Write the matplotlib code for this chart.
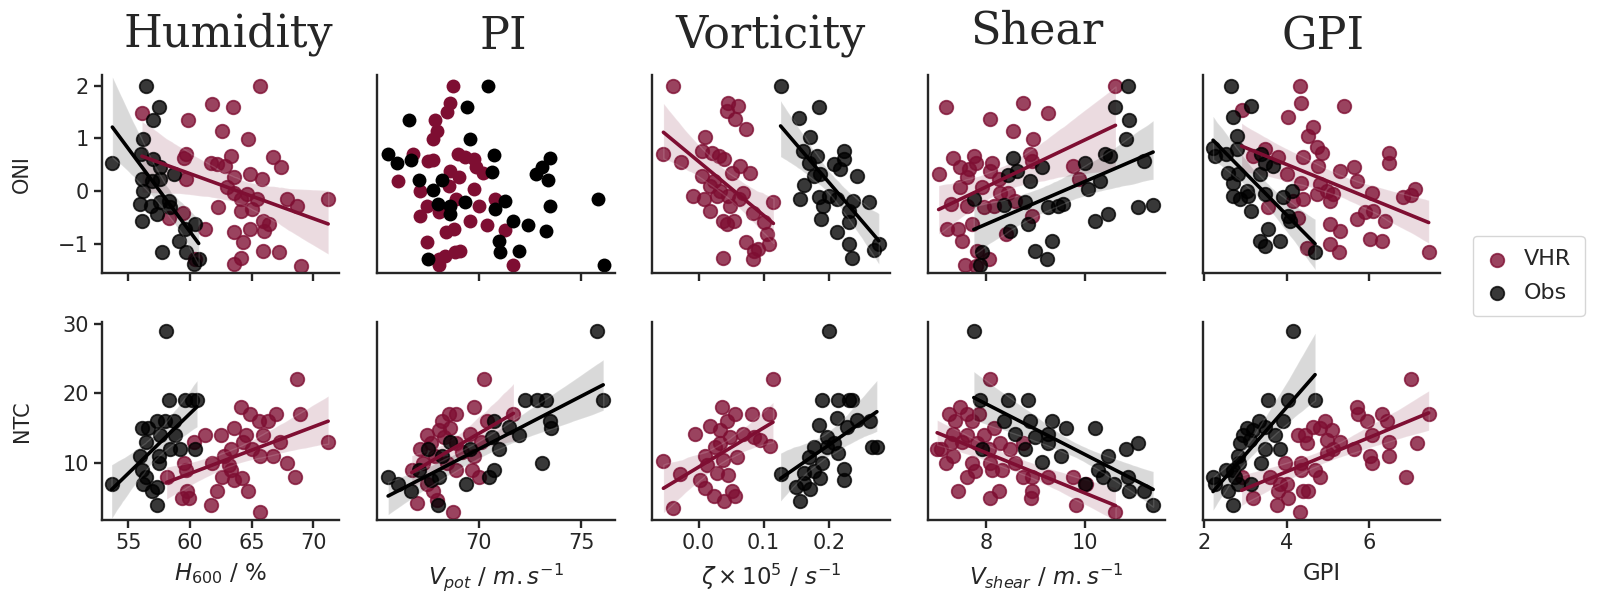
import numpy as np
import matplotlib
matplotlib.use("Agg")
import matplotlib.pyplot as plt
import seaborn as sns

# ---- data ---------------------------------------------------------------
# Humidity (H600) vs ONI / NTC
hum_vhr_oni_x = [56.1, 59.8, 61.8, 63.5, 65.7, 62.6, 64.7, 59.7, 59.5, 61.7, 62.2, 62.8, 63.3, 66.7, 67.4,
                 59.7, 63.6, 64.9, 65.8, 63.0, 63.6, 64.1, 64.6, 65.4, 62.3, 64.1, 65.0, 67.9, 68.7, 71.2,
                 59.4, 58.3, 61.2, 63.6, 64.3, 64.9, 65.9, 66.0, 66.4, 65.9, 67.2, 64.1, 63.6, 69.0, 60.4]
hum_vhr_oni_y = [1.49, 1.35, 1.66, 1.59, 2.0, 1.14, 0.99, 0.70, 0.62, 0.54, 0.51, 0.48, 0.67, 0.64, 0.45,
                 0.23, 0.26, 0.32, 0.23, 0.07, -0.03, -0.15, -0.06, -0.15, -0.31, -0.37, -0.34, -0.15, -0.28, -0.15,
                 -0.42, -0.50, -0.72, -0.78, -0.96, -0.72, -0.56, -0.75, -0.63, -1.13, -1.15, -1.26, -1.38, -1.42, -1.29]
hum_obs_oni_x = [56.4, 57.5, 57.0, 56.2, 53.7, 56.0, 57.0, 57.6, 58.7, 56.1, 56.9, 57.6, 56.2, 55.95, 56.8,
                 57.6, 58.3, 57.3, 56.1, 58.4, 59.6, 60.4, 59.1, 59.7, 57.7, 60.3, 60.7]
hum_obs_oni_y = [2.0, 1.59, 1.35, 0.99, 0.53, 0.70, 0.61, 0.45, 0.32, 0.23, 0.20, 0.23, 0.0, -0.25, -0.28,
                 -0.21, -0.18, -0.44, -0.56, -0.31, -0.72, -0.63, -0.94, -1.15, -1.15, -1.38, -1.29]
hum_vhr_ntc_x = [68.7, 68.9, 71.2, 64.1, 64.9, 65.6, 66.3, 67.0, 63.6, 64.5, 65.9, 61.25, 62.5, 60.3, 64.3,
                 67.3, 63.3, 65.05, 65.7, 66.7, 67.9, 68.5, 61.8, 62.75, 59.5, 59.7, 63.3, 62.6, 63.6, 64.2,
                 58.1, 62.2, 64.7, 59.75, 59.35, 59.9, 61.7, 65.7, 63.15]
hum_vhr_ntc_y = [22, 17, 13, 18, 17, 16, 16, 17, 15, 14, 14, 14, 14, 13, 13,
                 13, 12, 12, 11, 11, 10, 8, 10, 11, 10, 9, 9, 8, 7.6, 7.8,
                 8, 6, 6, 6, 5, 5, 4, 3, 9.7]
hum_obs_ntc_x = [58.07, 58.26, 59.6, 60.16, 60.57, 57.3, 58.0, 58.7, 56.1, 56.6, 57.6, 58.8, 56.4, 58.4, 59.2,
                 60.4, 55.95, 57.45, 57.5, 53.64, 56.1, 56.4, 56.2, 56.9, 57.3, 57.3]
hum_obs_ntc_y = [29, 19, 19, 19, 19, 16, 16, 16, 15, 15, 14, 14, 13, 12, 12,
                 12, 11, 11, 10, 7, 9, 8, 7, 6, 6.6, 4]

# Potential intensity (Vpot)
pi_vhr_oni_x = [68.75, 68.6, 68.45, 67.9, 68.0, 67.8, 66.8, 69.0, 69.35, 69.8, 67.55, 67.8, 69.9, 70.2, 66.1,
                67.15, 68.6, 69.05, 68.55, 69.8, 67.5, 68.1, 67.15, 68.9, 70.0, 70.8, 69.6, 70.4, 71.3, 68.8,
                68.4, 67.5, 68.85, 68.1, 68.35, 68.1, 69.1, 71.7]
pi_vhr_oni_y = [2.0, 1.67, 1.50, 1.35, 1.14, 0.99, 0.70, 0.70, 0.64, 0.61, 0.57, 0.59, 0.45, 0.34, 0.20,
                0.01, 0.39, 0.26, 0.10, 0.04, -0.28, -0.40, -0.47, -0.15, -0.28, -0.15, -0.56, -0.64, -0.73, -0.72,
                -0.78, -0.96, -1.15, -1.28, -1.23, -1.40, -1.13, -1.40]
pi_obs_oni_x = [70.46, 69.43, 66.6, 69.6, 65.6, 66.04, 66.7, 70.77, 70.65, 67.1, 68.2, 67.8, 73.5, 73.1, 72.8,
                73.4, 75.8, 68.05, 68.6, 69.35, 68.6, 70.8, 71.3, 73.5, 71.7, 72.4, 73.3, 71.0, 71.06, 71.95,
                67.55, 76.1]
pi_obs_oni_y = [2.0, 1.59, 1.35, 0.99, 0.70, 0.54, 0.59, 0.68, 0.37, 0.21, 0.21, 0.02, 0.62, 0.45, 0.32,
                0.21, -0.15, -0.25, -0.28, -0.21, -0.44, -0.34, -0.18, -0.29, -0.56, -0.64, -0.75, -0.94, -1.16, -1.13,
                -1.29, -1.40]
pi_vhr_ntc_x = [70.28, 69.8, 68.55, 68.9, 68.2, 70.4, 71.7, 67.5, 68.1, 68.6, 69.6, 70.1, 67.15, 67.7, 68.9,
                69.8, 66.75, 67.3, 68.45, 68.9, 69.7, 70.0, 67.5, 67.8, 67.0, 68.0, 68.75, 69.2, 68.3, 67.9]
pi_vhr_ntc_y = [22, 18, 17, 17, 16, 16, 17, 14, 14.7, 15, 14.2, 13, 12, 12.8, 12.8,
                11, 9, 10, 10, 9, 9, 8, 7, 6, 4.2, 4.7, 3, 11.6, 13.7, 11]
pi_obs_ntc_x = [75.75, 76.07, 72.28, 72.85, 73.3, 73.5, 73.55, 70.77, 71.47, 71.95, 70.65, 71.0, 68.6, 67.55, 69.6,
                68.2, 65.6, 66.1, 66.7, 67.1, 67.7, 68.1, 69.4, 70.5, 70.77, 73.1, 68.05]
pi_obs_ntc_y = [29, 19, 19, 19, 19, 16, 15, 16, 15.2, 14, 13.7, 12, 13, 12, 12,
                11, 8, 7, 6, 9, 7.6, 8, 7, 8, 9, 10, 4]

# Vorticity (zeta x 1e5)
vor_vhr_oni_x = [-0.0395, 0.0446, 0.06, 0.0436, 0.0564, 0.0733, 0.0103, -0.054, -0.027, 0.005, 0.0205, 0.031, 0.0385,
                 0.005, 0.064, 0.079, 0.051, 0.018, 0.033, 0.023, -0.008, 0.008, 0.028, 0.046, 0.062, 0.069, 0.115,
                 0.018, 0.049, 0.084, 0.038, 0.054, 0.10, 0.044, 0.105, 0.108, 0.092, 0.073, 0.084, 0.038, 0.085]
vor_vhr_oni_y = [2.0, 1.68, 1.62, 1.52, 1.36, 1.17, 1.02, 0.70, 0.56, 0.76, 0.73, 0.67, 0.61,
                 0.29, 0.48, 0.35, 0.35, 0.10, 0.01, 0.20, -0.09, -0.15, -0.09, -0.09, -0.15, -0.03, -0.20,
                 -0.37, -0.28, -0.42, -0.56, -0.56, -0.59, -0.63, -0.81, -1.0, -1.1, -0.97, -1.28, -1.26, -1.13]
vor_obs_oni_x = [0.126, 0.185, 0.154, 0.172, 0.160, 0.223, 0.224, 0.182, 0.169, 0.208, 0.218, 0.187, 0.177, 0.243,
                 0.162, 0.156, 0.185, 0.200, 0.213, 0.238, 0.262, 0.191, 0.231, 0.188, 0.231, 0.213, 0.231, 0.277,
                 0.269, 0.236]
vor_obs_oni_y = [2.0, 1.6, 1.38, 1.02, 0.76, 0.76, 0.61, 0.67, 0.54, 0.51, 0.42, 0.32, 0.29, 0.29,
                 0.11, -0.15, -0.12, -0.09, -0.15, -0.18, -0.20, -0.28, -0.37, -0.52, -0.59, -0.78, -1.0, -1.0,
                 -1.11, -1.26]
vor_vhr_ntc_x = [0.1144, 0.0359, 0.0564, 0.082, 0.1077, 0.0436, 0.018, -0.005, 0.033, 0.0487, 0.069, 0.085, 0.110,
                 0.095, -0.054, 0.0103, 0.0256, 0.038, 0.059, 0.0128, -0.028, 0.0026, 0.028, 0.046, 0.0103, 0.023,
                 0.051, 0.056, 0.0385, -0.04, 0.033]
vor_vhr_ntc_y = [22, 18, 17, 17, 17, 16, 15.3, 14.2, 14.7, 13.7, 14.2, 13.7, 12.4,
                 13.3, 10.3, 11, 12.3, 10.4, 10.9, 9.7, 8.4, 7.6, 8.5, 8.3, 6.4, 5.2,
                 5.9, 5.2, 4.5, 3.5, 12.8]
vor_obs_ntc_x = [0.200, 0.190, 0.215, 0.231, 0.236, 0.213, 0.244, 0.264, 0.185, 0.228, 0.197, 0.177, 0.197, 0.274,
                 0.267, 0.215, 0.169, 0.190, 0.126, 0.162, 0.177, 0.187, 0.223, 0.223, 0.149, 0.162, 0.172, 0.156,
                 0.208]
vor_obs_ntc_y = [29, 19, 19, 19, 19, 16.4, 16.1, 16, 15.4, 15.2, 13.7, 12.3, 12.3, 12.3,
                 12.3, 11.4, 10.9, 10, 8.4, 8.5, 8.8, 7.8, 9.1, 7.5, 6.6, 7.1, 6.2, 4.6,
                 12.8]

# Vertical wind shear
she_vhr_oni_x = [10.61, 7.18, 8.75, 9.25, 8.08, 8.55, 8.94, 8.88, 8.92, 7.34, 7.75, 7.8, 7.48, 7.65, 8.11,
                 8.08, 7.04, 7.61, 9.75, 9.88, 8.25, 7.48, 7.91, 8.28, 8.45, 7.28, 7.61, 7.95, 8.15, 8.58,
                 8.92, 7.21, 7.44, 7.71, 7.51, 8.41, 7.81, 8.05, 7.58, 7.79]
she_vhr_oni_y = [2.0, 1.59, 1.68, 1.49, 1.36, 1.14, 0.99, 0.70, 0.57, 0.62, 0.67, 0.54, 0.45, 0.42, 0.54,
                 0.39, 0.32, 0.26, 0.48, 0.23, 0.23, 0.07, 0.07, -0.03, -0.03, -0.25, -0.28, -0.31, -0.28, -0.18,
                 -0.47, -0.72, -0.72, -0.63, -0.94, -0.81, -1.13, -1.29, -1.40, -1.42]
she_obs_oni_x = [10.86, 10.61, 10.88, 10.82, 10.39, 10.49, 11.19, 8.55, 8.62, 8.45, 9.12, 9.99, 8.88, 10.29, 10.05,
                 7.75, 8.35, 8.78, 9.25, 9.55, 9.45, 8.85, 8.48, 10.19, 10.45, 11.06, 11.37, 9.32, 8.98, 9.22,
                 7.91, 7.88]
she_obs_oni_y = [2.0, 1.59, 1.35, 0.99, 0.70, 0.67, 0.57, 0.62, 0.39, 0.30, 0.45, 0.53, 0.20, 0.20, 0.04,
                 -0.15, -0.27, -0.21, -0.31, -0.25, -0.28, -0.63, -0.75, -0.56, -0.44, -0.31, -0.27, -0.94, -1.13, -1.28,
                 -1.16, -1.40]
she_vhr_ntc_x = [8.07, 7.48, 7.24, 7.38, 7.61, 7.85, 7.71, 8.15, 7.34, 7.61, 7.95, 7.08, 7.01, 7.28, 7.51,
                 7.81, 8.05, 8.28, 8.48, 8.75, 7.18, 7.34, 7.71, 8.08, 8.31, 7.78, 7.61, 8.11, 8.75, 8.92,
                 9.25, 9.75, 10.02, 8.92, 7.44, 8.08, 8.25, 8.90, 9.82, 10.61, 8.58]
she_vhr_ntc_y = [22, 18, 17, 16, 17, 17, 16, 15, 14.2, 14, 14, 12, 12, 12.8, 13,
                 12.8, 12, 12.8, 12, 12.8, 10, 11, 10, 10, 9, 8.8, 8, 9, 8, 8,
                 8, 8, 7, 6, 6, 5, 6, 5, 4, 3, 10]
she_obs_ntc_x = [7.75, 7.88, 8.45, 8.84, 8.35, 8.58, 8.88, 9.32, 9.62, 10.19, 8.98, 9.25, 9.25, 8.78, 9.52,
                 9.12, 7.91, 11.06, 10.82, 10.45, 10.25, 10.35, 10.59, 10.86, 10.89, 11.19, 11.37, 9.99]
she_obs_ntc_y = [29, 19, 19, 19, 16, 14.2, 16, 16, 15, 15, 13.7, 14.2, 12.9, 12, 11,
                 10.2, 12, 12.9, 12, 11, 9, 8, 7, 8, 6, 6, 4, 7]

# Genesis potential index
gpi_vhr_oni_x = [4.32, 4.36, 5.38, 2.91, 4.04, 4.63, 4.53, 4.73, 4.85, 3.47, 3.19, 3.80, 4.40, 4.0, 4.77,
                 5.30, 5.62, 5.70, 6.47, 6.47, 4.36, 4.81, 4.97, 5.13, 4.73, 5.05, 4.40, 6.06, 6.83, 7.12,
                 7.0, 3.55, 4.16, 4.28, 5.70, 5.90, 6.10, 6.39, 5.05, 5.30, 6.02, 6.31, 4.49, 5.05, 5.26, 7.44]
gpi_vhr_oni_y = [2.0, 1.68, 1.62, 1.54, 1.40, 1.21, 1.05, 0.83, 0.73, 0.80, 0.67, 0.64, 0.64, 0.32, 0.48,
                 0.39, 0.45, 0.20, 0.73, 0.54, 0.16, 0.13, 0.01, -0.06, -0.06, -0.18, -0.15, -0.03, -0.12, 0.04,
                 -0.07, -0.31, -0.18, -0.50, -0.53, -0.40, -0.37, -0.56, -0.63, -0.75, -0.91, -0.94, -1.07, -1.0, -1.15, -1.15]
gpi_obs_oni_x = [2.66, 3.13, 2.70, 2.79, 2.22, 2.26, 2.54, 2.79, 3.39, 3.47, 3.68, 2.58, 2.83, 3.35, 2.70,
                 3.03, 2.70, 2.87, 3.07, 3.47, 3.92, 4.12, 3.15, 4.04, 4.08, 3.55, 3.35, 3.84, 3.47, 4.69]
gpi_obs_oni_y = [2.0, 1.62, 1.40, 1.05, 0.81, 0.67, 0.70, 0.80, 0.70, 0.54, 0.48, 0.35, 0.32, 0.32, 0.16,
                 0.01, -0.09, -0.15, -0.09, -0.06, -0.12, 0.01, -0.37, -0.47, -0.56, -0.72, -0.94, -0.94, -1.04, -1.15]
gpi_vhr_ntc_x = [7.0, 5.70, 5.74, 6.31, 7.44, 4.93, 5.94, 6.43, 4.65, 4.81, 5.09, 4.28, 4.45, 4.49, 4.97,
                 5.30, 5.62, 6.06, 6.47, 7.16, 6.02, 6.06, 6.47, 4.97, 5.13, 3.96, 4.36, 4.69, 4.81, 4.36,
                 3.60, 3.84, 4.0, 2.91, 3.80, 3.19, 3.76, 4.04, 4.40, 4.53, 4.32, 6.90]
gpi_vhr_ntc_y = [22, 18, 17, 17, 17, 16, 16, 16, 15.2, 15, 14.7, 14, 14, 12.9, 13.3,
                 13, 12, 14, 13, 12.9, 11, 10, 11, 11.4, 12, 10, 10, 9, 8, 9,
                 8, 7, 7, 8, 6, 5, 4, 5, 6, 6, 3, 8]
gpi_obs_ntc_x = [4.15, 3.55, 4.04, 4.69, 3.34, 3.92, 3.03, 3.19, 3.47, 2.95, 3.72, 2.87, 3.11, 3.47, 3.84,
                 3.39, 2.83, 2.54, 2.70, 2.22, 2.26, 2.74, 2.83, 2.58, 3.15, 2.70, 2.85]
gpi_obs_ntc_y = [29, 19, 19, 19, 16, 16, 15, 14.7, 15.2, 14, 14, 12.8, 13.3, 12, 12,
                 10, 11, 9, 9, 8, 7, 8, 7, 6, 7, 4, 10]

titles = ['Humidity', 'PI', 'Vorticity', 'Shear', 'GPI']
xlabels = [r'$H_{600}$ / %', r'$V_{pot}$ / $m.s^{-1}$', r'$\zeta \times 10^5$ / $s^{-1}$',
           r'$V_{shear}$ / $m.s^{-1}$', 'GPI']
row_labels = ['ONI', 'NTC']
series_names = ['VHR', 'Obs']

panels = [
    [(hum_vhr_oni_x, hum_vhr_oni_y, hum_obs_oni_x, hum_obs_oni_y),
     (hum_vhr_ntc_x, hum_vhr_ntc_y, hum_obs_ntc_x, hum_obs_ntc_y)],
    [(pi_vhr_oni_x, pi_vhr_oni_y, pi_obs_oni_x, pi_obs_oni_y),
     (pi_vhr_ntc_x, pi_vhr_ntc_y, pi_obs_ntc_x, pi_obs_ntc_y)],
    [(vor_vhr_oni_x, vor_vhr_oni_y, vor_obs_oni_x, vor_obs_oni_y),
     (vor_vhr_ntc_x, vor_vhr_ntc_y, vor_obs_ntc_x, vor_obs_ntc_y)],
    [(she_vhr_oni_x, she_vhr_oni_y, she_obs_oni_x, she_obs_oni_y),
     (she_vhr_ntc_x, she_vhr_ntc_y, she_obs_ntc_x, she_obs_ntc_y)],
    [(gpi_vhr_oni_x, gpi_vhr_oni_y, gpi_obs_oni_x, gpi_obs_oni_y),
     (gpi_vhr_ntc_x, gpi_vhr_ntc_y, gpi_obs_ntc_x, gpi_obs_ntc_y)],
]

# ---- styling -------------------------------------------------------------
sns.set_style('ticks')
plt.rcParams['font.family'] = ['DejaVu Sans']
plt.rcParams['axes.linewidth'] = 1.7
plt.rcParams['xtick.major.width'] = 1.7
plt.rcParams['ytick.major.width'] = 1.7
plt.rcParams['xtick.major.size'] = 6
plt.rcParams['ytick.major.size'] = 6
plt.rcParams['xtick.labelsize'] = 15
plt.rcParams['ytick.labelsize'] = 15

col_vhr = '#7e0e32'
col_obs = '#000000'
colors = [col_vhr, col_obs]

xlims = [(52.86, 72.1), (65.07, 76.62), (-0.0708, 0.2938), (6.82, 11.61), (1.976, 7.72)]
xticks = [[55, 60, 65, 70], [70, 75], [0.0, 0.1, 0.2], [8, 10], [2, 4, 6]]
ylims = [(-1.55, 2.2), (1.8, 30.2)]
yticks = [[-1, 0, 1, 2], [10, 20, 30]]

fig, axes = plt.subplots(2, 5, figsize=(16.01, 6.06), dpi=100)
fig.subplots_adjust(left=0.0637, right=0.8996, top=0.876, bottom=0.1419, wspace=0.16, hspace=0.25)

for c in range(5):
    for r in range(2):
        ax = axes[r, c]
        vx, vy, ox, oy = panels[c][r]
        for k, (xx, yy) in enumerate([(vx, vy), (ox, oy)]):
            col = colors[k]
            if c == 1 and r == 0:
                # no fit here, plain solid dots
                ax.scatter(xx, yy, s=100, color=col, linewidths=0, label=series_names[k])
            else:
                sns.regplot(x=np.array(xx), y=np.array(yy), ax=ax, color=col, seed=0,
                            scatter_kws=dict(s=95, alpha=0.78, linewidths=1.3, edgecolors=col),
                            line_kws=dict(lw=2.6), label=series_names[k])
        ax.set_xlim(xlims[c])
        ax.set_ylim(ylims[r])
        ax.set_xticks(xticks[c])
        ax.set_yticks(yticks[r])
        ax.set_xlabel('')
        ax.set_ylabel('')
        sns.despine(ax=ax)
        if r == 0:
            ax.tick_params(labelbottom=False)
        else:
            ax.set_xlabel(xlabels[c], fontsize=16.5, labelpad=6)
        if c == 0:
            ax.set_ylabel(row_labels[r], fontsize=15)
            ax.yaxis.set_label_coords(-0.295, 0.5)
        else:
            ax.tick_params(left=False, labelleft=False)

# panel titles
title_x = [228, 503, 770, 1037, 1323]
title_base = [47, 49, 49, 44, 49]
for t, tx, ty in zip(titles, title_x, title_base):
    fig.text(tx / 1601, 1 - ty / 606, t, ha='center', va='baseline',
             fontsize=32, family='DejaVu Serif')

handles, labels = axes[0, 0].get_legend_handles_labels()
leg = fig.legend(handles[:2], series_names, loc='upper left', bbox_to_anchor=(1473 / 1601, 1 - 236 / 606),
                 borderaxespad=0, fontsize=16, frameon=True, handlelength=1.0, handletextpad=0.7,
                 borderpad=0.6, labelspacing=0.6)
for h in leg.legend_handles:
    h.set_sizes([95])

fig.savefig('out.png', dpi=100)
